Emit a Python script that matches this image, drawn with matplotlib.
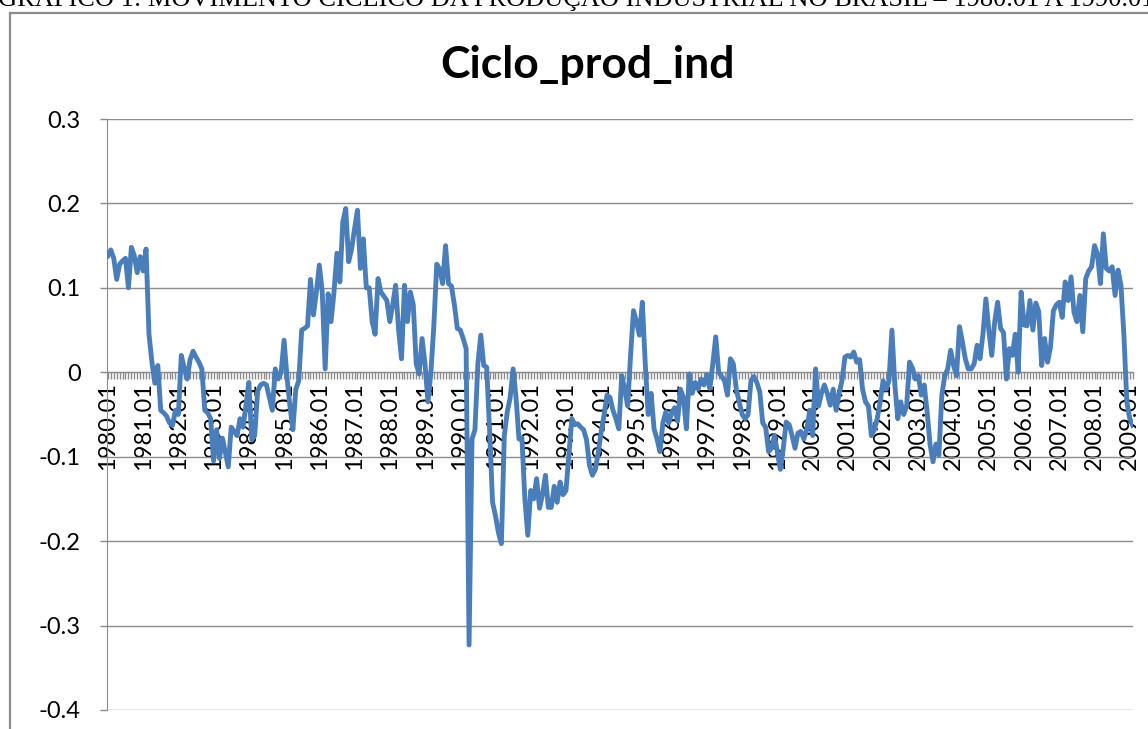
import matplotlib
matplotlib.use("Agg")
import matplotlib.pyplot as plt
from matplotlib.patches import Rectangle
from matplotlib.ticker import MultipleLocator, FixedLocator
import numpy as np

# monthly cycle of industrial production, 1980.01 - 2009.02
ciclo = [
    0.138, 0.145, 0.135, 0.110, 0.128, 0.132, 0.135, 0.100, 0.148, 0.138, 0.118, 0.137,   # 1980
    0.120, 0.146, 0.045, 0.012, -0.013, 0.008, -0.045, -0.048, -0.052, -0.060, -0.063, -0.045,  # 1981
    -0.050, 0.020, 0.005, -0.008, 0.015, 0.025, 0.018, 0.012, 0.004, -0.045, -0.048, -0.055,  # 1982
    -0.105, -0.068, -0.102, -0.078, -0.095, -0.112, -0.065, -0.070, -0.075, -0.055, -0.065, -0.040,  # 1983
    -0.012, -0.080, -0.075, -0.022, -0.015, -0.013, -0.015, -0.030, -0.045, 0.004, -0.008, 0.000,  # 1984
    0.038, -0.006, -0.040, -0.068, -0.020, -0.010, 0.050, 0.052, 0.055, 0.110, 0.068, 0.095,  # 1985
    0.127, 0.095, 0.004, 0.093, 0.060, 0.095, 0.141, 0.107, 0.178, 0.194, 0.131, 0.146,  # 1986
    0.170, 0.192, 0.123, 0.158, 0.100, 0.100, 0.060, 0.045, 0.111, 0.095, 0.090, 0.085,  # 1987
    0.060, 0.080, 0.103, 0.050, 0.016, 0.103, 0.060, 0.095, 0.080, 0.010, -0.002, 0.040,  # 1988
    0.010, -0.035, 0.000, 0.055, 0.128, 0.122, 0.105, 0.150, 0.105, 0.102, 0.080, 0.052,  # 1989
    0.050, 0.040, 0.028, -0.323, -0.079, -0.068, 0.010, 0.044, 0.008, 0.006, -0.070, -0.154,  # 1990
    -0.170, -0.190, -0.203, -0.075, -0.047, -0.030, 0.004, -0.030, -0.079, -0.078, -0.150, -0.193,  # 1991
    -0.140, -0.150, -0.126, -0.161, -0.145, -0.122, -0.160, -0.160, -0.135, -0.154, -0.130, -0.145,  # 1992
    -0.140, -0.098, -0.055, -0.062, -0.061, -0.065, -0.068, -0.080, -0.110, -0.122, -0.115, -0.095,  # 1993
    -0.070, -0.050, -0.027, -0.030, -0.045, -0.055, -0.067, -0.004, -0.020, -0.040, 0.020, 0.073,  # 1994
    0.060, 0.044, 0.083, 0.010, -0.050, -0.025, -0.067, -0.079, -0.094, -0.060, -0.047, -0.060,  # 1995
    -0.048, -0.042, -0.058, -0.020, -0.030, -0.067, -0.002, -0.025, -0.012, -0.020, -0.008, -0.015,  # 1996
    -0.003, -0.019, 0.010, 0.042, 0.000, -0.005, -0.010, -0.027, 0.016, 0.010, -0.020, -0.035,  # 1997
    -0.050, -0.055, -0.050, -0.010, -0.005, -0.012, -0.023, -0.060, -0.065, -0.094, -0.090, -0.075,  # 1998
    -0.095, -0.115, -0.090, -0.059, -0.062, -0.075, -0.090, -0.072, -0.070, -0.079, -0.068, -0.045,  # 1999
    -0.075, 0.004, -0.040, -0.025, -0.015, -0.025, -0.039, -0.020, -0.045, -0.025, -0.010, 0.018,  # 2000
    0.020, 0.018, 0.024, 0.012, 0.015, -0.020, -0.035, -0.040, -0.075, -0.068, -0.055, -0.035,  # 2001
    -0.010, -0.020, -0.010, 0.050, -0.015, -0.055, -0.035, -0.050, -0.040, 0.012, 0.005, -0.008,  # 2002
    -0.004, -0.027, -0.015, -0.047, -0.086, -0.106, -0.085, -0.098, -0.027, -0.004, 0.004, 0.026,  # 2003
    0.008, -0.004, 0.054, 0.036, 0.016, 0.004, 0.004, 0.010, 0.032, 0.016, 0.045, 0.087,  # 2004
    0.050, 0.020, 0.060, 0.083, 0.052, 0.047, -0.008, 0.028, 0.020, 0.045, 0.000, 0.095,  # 2005
    0.056, 0.055, 0.085, 0.050, 0.082, 0.072, 0.008, 0.040, 0.012, 0.030, 0.073, 0.080,  # 2006
    0.083, 0.065, 0.107, 0.085, 0.113, 0.071, 0.060, 0.091, 0.048, 0.111, 0.120, 0.125,  # 2007
    0.150, 0.140, 0.105, 0.164, 0.123, 0.120, 0.125, 0.091, 0.121, 0.103, 0.044, -0.035,  # 2008
    -0.055, -0.063,  # 2009
]

years = list(range(1980, 2010))
tick_labels = [str(y) + ".01" for y in years]
y_ticks = [-0.4, -0.3, -0.2, -0.1, 0, 0.1, 0.2, 0.3]
y_labels = ["-0.4", "-0.3", "-0.2", "-0.1", "0", "0.1", "0.2", "0.3"]

caption = "GRÁFICO 1: MOVIMENTO CÍCLICO DA PRODUÇÃO INDUSTRIAL NO BRASIL – 1980.01 A 1990.01"

W, H = 1148, 729
fig = plt.figure(figsize=(W / 100, H / 100), dpi=100)

# caption of the page, cut at the top of the picture
fig.text(-2 / W, 1 - 6 / H, caption, fontsize=19, family="Liberation Serif",
         va="baseline", ha="left", color="black")

# chart area border (runs off the right and bottom)
fig.patches.append(Rectangle((10 / W, -0.1), 1.2, 1.1 - 13 / H, transform=fig.transFigure,
                             fill=False, edgecolor="#8c8c8c", linewidth=1.6))

ax = fig.add_axes([107 / W, 1 - 710 / H, (1133 - 107) / W, (710 - 119) / H])

x = np.arange(len(ciclo))
ax.plot(x, ciclo, color="#4A7EBB", linewidth=3.5, solid_joinstyle="round", zorder=3)

ax.set_xlim(-0.3, len(ciclo) - 1 + 0.1)
ax.set_ylim(-0.4, 0.3)

ax.set_yticks(y_ticks)
ax.set_yticklabels(y_labels, family="Lato", fontsize=17)
ax.grid(axis="y", color="#8c8c8c", linewidth=1.0)
ax.set_axisbelow(True)

# x axis sits on zero, a tick for each month, a label each January
ax.spines["bottom"].set_position(("data", 0))
ax.spines["bottom"].set_color("#8c8c8c")
ax.spines["left"].set_color("#8c8c8c")
ax.spines["top"].set_visible(False)
ax.spines["right"].set_visible(False)
ax.xaxis.set_major_locator(FixedLocator([12 * i for i in range(len(years))]))
ax.set_xticklabels(tick_labels, rotation=90, family="Lato", fontsize=17)
ax.xaxis.set_minor_locator(MultipleLocator(1))
ax.tick_params(axis="x", which="both", direction="out", length=5, width=1,
               color="#8c8c8c", pad=2)
ax.tick_params(axis="y", direction="out", length=5, width=1, color="#8c8c8c", pad=14)

fig.text(587 / W, 1 - 78 / H, "Ciclo_prod_ind", fontsize=32, fontweight="bold",
         family="Lato", ha="center", va="baseline")

fig.savefig("out.png", dpi=100)
